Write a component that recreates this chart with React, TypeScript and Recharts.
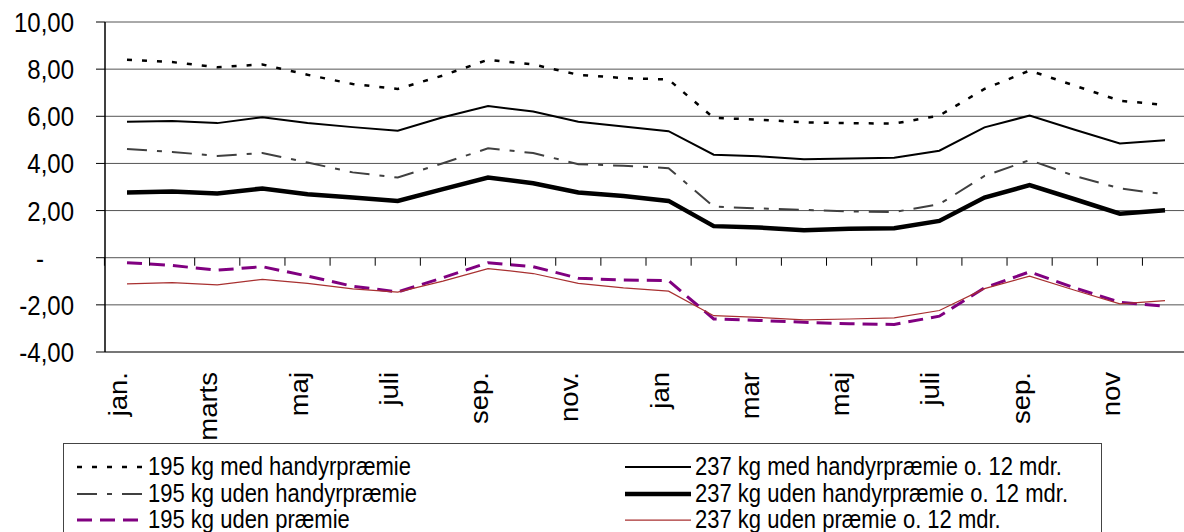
import { LineChart, Line, XAxis, YAxis, CartesianGrid } from "recharts";

const months = [
  "jan.", "feb.", "marts", "april", "maj", "juni", "juli", "aug.", "sep.", "okt.", "nov.", "dec.",
  "jan", "feb", "mar", "apr", "maj", "jun", "juli", "aug", "sep.", "okt", "nov", "dec",
];

const med195 = [8.4, 8.3, 8.08, 8.2, 7.76, 7.37, 7.16, 7.73, 8.4, 8.2, 7.76, 7.62, 7.56, 5.93, 5.86, 5.74, 5.71, 5.69, 6.03, 7.16, 7.94, 7.3, 6.66, 6.48];
const udenHandyr195 = [4.61, 4.49, 4.32, 4.44, 4.04, 3.62, 3.4, 4.01, 4.64, 4.44, 3.97, 3.9, 3.8, 2.17, 2.09, 2.03, 1.96, 1.94, 2.27, 3.47, 4.14, 3.47, 2.94, 2.69];
const udenPraemie195 = [-0.21, -0.33, -0.53, -0.38, -0.78, -1.21, -1.45, -0.85, -0.21, -0.38, -0.87, -0.95, -0.97, -2.6, -2.66, -2.74, -2.8, -2.83, -2.48, -1.28, -0.6, -1.28, -1.89, -2.06];
const med237 = [5.77, 5.8, 5.71, 5.96, 5.72, 5.54, 5.39, 5.96, 6.44, 6.2, 5.77, 5.57, 5.37, 4.37, 4.3, 4.18, 4.21, 4.24, 4.54, 5.53, 6.03, 5.43, 4.85, 4.98];
const udenHandyr237 = [2.77, 2.81, 2.72, 2.94, 2.69, 2.55, 2.41, 2.91, 3.4, 3.16, 2.77, 2.62, 2.41, 1.34, 1.28, 1.17, 1.23, 1.25, 1.56, 2.55, 3.08, 2.48, 1.87, 2.01];
const udenPraemie237 = [-1.11, -1.06, -1.15, -0.92, -1.09, -1.32, -1.46, -0.99, -0.46, -0.67, -1.09, -1.28, -1.42, -2.46, -2.53, -2.64, -2.6, -2.55, -2.24, -1.31, -0.78, -1.38, -1.96, -1.82];

const yTicks = [-4, -2, 0, 2, 4, 6, 8, 10];

const data = months.map((m, i) => ({
  month: m,
  a: med195[i],
  b: udenHandyr195[i],
  c: udenPraemie195[i],
  d: med237[i],
  e: udenHandyr237[i],
  f: udenPraemie237[i],
}));

const series = [
  { key: "a", name: "195 kg med handyrpræmie", color: "#000", width: 2.5, dash: "5 10" },
  { key: "b", name: "195 kg uden handyrpræmie", color: "#404040", width: 2, dash: "20 10 5 10" },
  { key: "c", name: "195 kg uden præmie", color: "#800080", width: 3, dash: "15 8" },
  { key: "d", name: "237 kg med handyrpræmie o. 12 mdr.", color: "#000", width: 2, dash: undefined },
  { key: "e", name: "237 kg uden handyrpræmie o. 12 mdr.", color: "#000", width: 4.5, dash: undefined },
  { key: "f", name: "237 kg uden præmie o. 12 mdr.", color: "#a83030", width: 1.25, dash: undefined },
];

const W = 1184;
const H = 532;
const TOP = 22;
const PLOT_H = 330;
const Y_AXIS_W = 105;
const PAD_L = 22;
const PAD_R = 19;
const FONT = "'Liberation Sans', Arial, sans-serif";

const step = (W - Y_AXIS_W - PAD_L - PAD_R) / (months.length - 1);
const zeroY = TOP + (10 / 14) * PLOT_H;

function MonthTick(props: any) {
  const { x, y, payload, index } = props;
  return (
    <g>
      <line x1={x - step / 2} x2={x - step / 2} y1={zeroY} y2={zeroY + 8} stroke="#000" strokeWidth={1} />
      {index % 2 === 0 && (
        <text transform={`translate(${x}, ${y}) rotate(-90) scale(1.1, 1)`} textAnchor="end" fontSize={25} fill="#000" fontFamily={FONT}>
          {payload.value}
        </text>
      )}
    </g>
  );
}

function ValueTick(props: any) {
  const { x, y, payload } = props;
  const v = payload.value as number;
  const label = v === 0 ? "-" : v.toFixed(2).replace(".", ",");
  const tx = v === 0 ? x - 30 : x;
  return (
    <text transform={`translate(${tx}, ${y}) scale(1, 1.15)`} dy="0.36em" textAnchor="end" fontSize={24} fill="#000" fontFamily={FONT}>
      {label}
    </text>
  );
}

function LegendBox() {
  return (
    <div style={{ position: "absolute", left: 63, top: 443, width: 1037, height: 100, border: "1px solid #444", fontFamily: FONT, fontSize: 22, color: "#000" }}>
      {series.map((s, i) => {
        const col = i < 3 ? 0 : 1;
        const row = i % 3;
        const lineX = col === 0 ? 13 : 561;
        const textX = col === 0 ? 84 : 631;
        const cy = 23 + row * 26.5;
        return (
          <div key={s.key}>
            <svg style={{ position: "absolute", left: lineX, top: cy - 5 }} width={68} height={10}>
              <line x1={0} x2={66} y1={5} y2={5} stroke={s.color} strokeWidth={s.width} strokeDasharray={s.dash} />
            </svg>
            <div style={{ position: "absolute", left: textX, top: cy - 13, lineHeight: "26px", whiteSpace: "nowrap", transform: "scaleY(1.15)" }}>{s.name}</div>
          </div>
        );
      })}
    </div>
  );
}

export default function App() {
  return (
    <div style={{ position: "absolute", left: 0, top: 0, width: W, height: H, background: "#fff", overflow: "hidden" }}>
      <LineChart width={W} height={H} data={data} margin={{ top: TOP, right: 0, left: 0, bottom: 120 }}>
        <CartesianGrid vertical={false} stroke="#555" />
        <XAxis
          dataKey="month"
          height={60}
          interval={0}
          padding={{ left: PAD_L, right: PAD_R }}
          axisLine={{ stroke: "#777", strokeWidth: 2 }}
          tickLine={false}
          tickSize={0}
          tickMargin={20}
          tick={<MonthTick />}
        />
        <YAxis
          width={Y_AXIS_W}
          domain={[-4, 10]}
          ticks={yTicks}
          interval={0}
          axisLine={{ stroke: "#000", strokeWidth: 1.5 }}
          tickLine={{ stroke: "#000" }}
          tickSize={9}
          tickMargin={22}
          tick={<ValueTick />}
        />
        {series.map((s) => (
          <Line
            key={s.key}
            type="linear"
            dataKey={s.key}
            name={s.name}
            stroke={s.color}
            strokeWidth={s.width}
            strokeDasharray={s.dash}
            dot={false}
            isAnimationActive={false}
          />
        ))}
      </LineChart>
      <LegendBox />
    </div>
  );
}
